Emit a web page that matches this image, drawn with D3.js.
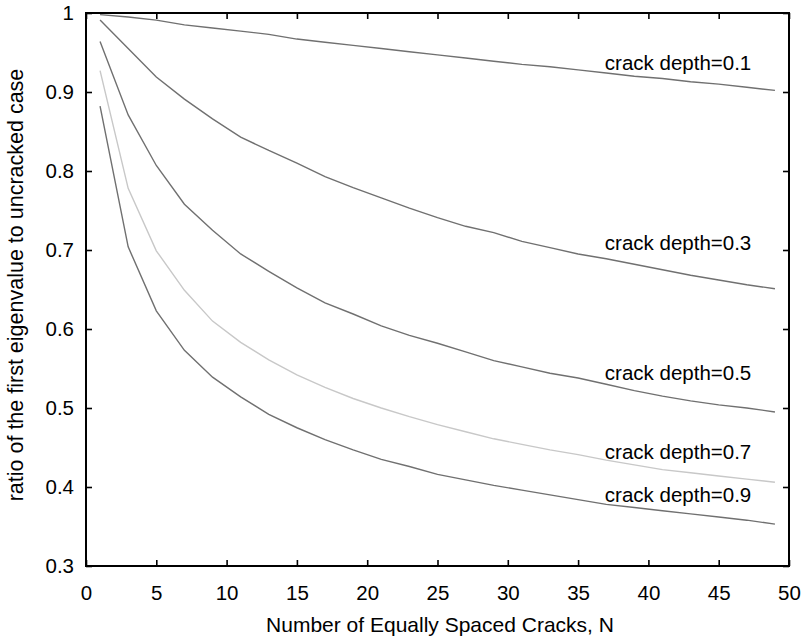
<!DOCTYPE html>
<html>
<head>
<meta charset="utf-8">
<script src="https://cdn.jsdelivr.net/npm/d3@7"></script>
<style>
  body { margin: 0; background: #fff; }
  text { font-family: "Liberation Sans", Arial, sans-serif; }
</style>
</head>
<body>
<div id="chart"></div>
<script>
const cracks = [1, 3, 5, 7, 9, 11, 13, 15, 17, 19, 21, 23, 25, 27, 29, 31, 33, 35, 37, 39, 41, 43, 45, 47, 49];
const depth01 = [0.998, 0.995, 0.991, 0.985, 0.981, 0.977, 0.973, 0.967, 0.963, 0.959, 0.955, 0.951, 0.947, 0.943, 0.939, 0.935, 0.932, 0.928, 0.924, 0.920, 0.917, 0.913, 0.910, 0.906, 0.902];
const depth03 = [0.991, 0.955, 0.919, 0.891, 0.866, 0.843, 0.826, 0.810, 0.793, 0.779, 0.766, 0.753, 0.741, 0.730, 0.722, 0.711, 0.703, 0.695, 0.689, 0.682, 0.675, 0.668, 0.662, 0.656, 0.651];
const depth05 = [0.964, 0.871, 0.807, 0.758, 0.725, 0.695, 0.673, 0.652, 0.633, 0.619, 0.604, 0.592, 0.582, 0.571, 0.560, 0.552, 0.544, 0.538, 0.530, 0.522, 0.515, 0.509, 0.504, 0.500, 0.495];
const depth07 = [0.927, 0.778, 0.699, 0.649, 0.610, 0.583, 0.561, 0.542, 0.526, 0.512, 0.500, 0.489, 0.479, 0.470, 0.461, 0.454, 0.447, 0.441, 0.434, 0.428, 0.422, 0.418, 0.414, 0.410, 0.406];
const depth09 = [0.882, 0.704, 0.623, 0.573, 0.539, 0.514, 0.492, 0.475, 0.460, 0.447, 0.435, 0.426, 0.416, 0.409, 0.402, 0.396, 0.390, 0.384, 0.378, 0.374, 0.370, 0.366, 0.362, 0.358, 0.353];

const xTicks = [0, 5, 10, 15, 20, 25, 30, 35, 40, 45, 50];
const yTicks = [0.3, 0.4, 0.5, 0.6, 0.7, 0.8, 0.9, 1];

const series = [
  { name: "crack depth=0.1", values: depth01, color: "#707070", labelAt: 0.928 },
  { name: "crack depth=0.3", values: depth03, color: "#707070", labelAt: 0.700 },
  { name: "crack depth=0.5", values: depth05, color: "#707070", labelAt: 0.535 },
  { name: "crack depth=0.7", values: depth07, color: "#c8c8c8", labelAt: 0.435 },
  { name: "crack depth=0.9", values: depth09, color: "#707070", labelAt: 0.381 }
];

const width = 803, height = 639;
const margin = { top: 13, right: 14, bottom: 73, left: 86 };

const svg = d3.select('#chart')
  .append('svg')
    .attr('width', width)
    .attr('height', height);

let x = d3.scaleLinear()
  .domain([0, 50])
  .range([margin.left, width - margin.right]);
let y = d3.scaleLinear()
  .domain([0.3, 1])
  .range([height - margin.bottom, margin.top]);

// lines
let line = d3.line()
  .x((d, i) => x(cracks[i]))
  .y(d => y(d));

svg.selectAll('path.series')
  .data(series)
  .enter()
  .append('path')
    .attr('class', 'series')
    .attr('d', d => line(d.values))
    .attr('fill', 'none')
    .attr('stroke', d => d.color)
    .attr('stroke-width', 1.4);

// labels
svg.selectAll('text.label')
  .data(series)
  .enter()
  .append('text')
    .attr('class', 'label')
    .attr('x', x(36.9))
    .attr('y', d => y(d.labelAt))
    .attr('font-size', 20.5)
    .attr('fill', '#000')
    .text(d => d.name);

// axes (ticks inward, mirrored on the opposite side)
const tickLen = 6;
const axisBottom = d3.axisBottom(x).tickValues(xTicks).tickSize(-tickLen).tickPadding(19).tickFormat(d3.format('d'));
const axisTop = d3.axisTop(x).tickValues(xTicks).tickSize(-tickLen).tickFormat('');
const axisLeft = d3.axisLeft(y).tickValues(yTicks).tickSize(-tickLen).tickPadding(12).tickFormat(d => d === 1 ? '1' : d3.format('.1f')(d));
const axisRight = d3.axisRight(y).tickValues(yTicks).tickSize(-tickLen).tickFormat('');

function styleAxis(g) {
  g.select('.domain').remove();
  g.selectAll('.tick line').attr('stroke', '#000').attr('stroke-width', 1.6);
  g.selectAll('.tick text').attr('font-size', 20.5).attr('fill', '#000')
    .style('font-family', '"Liberation Sans", Arial, sans-serif');
}

svg.append('g').attr('transform', `translate(0,${height - margin.bottom})`).call(axisBottom).call(styleAxis);
svg.append('g').attr('transform', `translate(0,${margin.top})`).call(axisTop).call(styleAxis);
svg.append('g').attr('transform', `translate(${margin.left},0)`).call(axisLeft).call(styleAxis);
svg.append('g').attr('transform', `translate(${width - margin.right},0)`).call(axisRight).call(styleAxis);

// frame
svg.append('rect')
  .attr('x', margin.left)
  .attr('y', margin.top)
  .attr('width', width - margin.right - margin.left)
  .attr('height', height - margin.bottom - margin.top)
  .attr('fill', 'none')
  .attr('stroke', '#000')
  .attr('stroke-width', 2);

// axis titles
svg.append('text')
  .attr('x', 440)
  .attr('y', 632)
  .attr('text-anchor', 'middle')
  .attr('font-size', 21)
  .text('Number of Equally Spaced Cracks, N');

svg.append('text')
  .attr('transform', 'translate(23,285) rotate(-90)')
  .attr('text-anchor', 'middle')
  .attr('font-size', 21.5)
  .text('ratio of the first eigenvalue to uncracked case');
</script>
</body>
</html>
